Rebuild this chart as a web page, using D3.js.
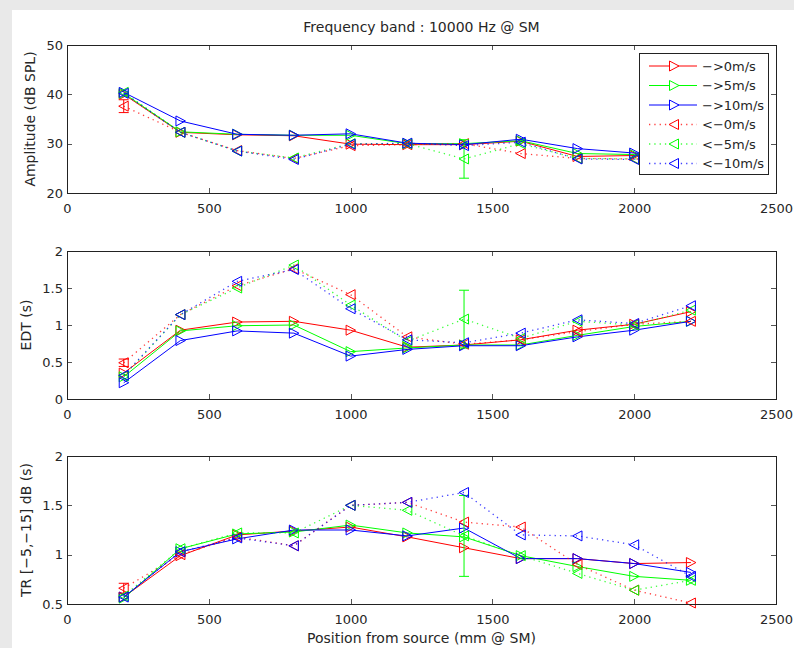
<!DOCTYPE html>
<html>
<head>
<meta charset="utf-8">
<script src="https://cdn.jsdelivr.net/npm/d3@7"></script>
<style>
body { margin: 0; background: #e9e9e9; }
svg { display: block; font-family: "DejaVu Sans", sans-serif; }
</style>
</head>
<body>
<script>
// x positions (mm from source)
var positions = [200, 400, 600, 800, 1000, 1200, 1400, 1600, 1800, 2000, 2200];
var seriesNames = ["\u2212>0m/s", "\u2212>5m/s", "\u2212>10m/s", "<\u22120m/s", "<\u22125m/s", "<\u221210m/s"];

// Amplitude (dB SPL)
var ampFwd0   = [40.0, 32.3, 31.8, 31.6, 29.9, 29.8, 29.8, 30.5, 27.4, 27.6, 27.2];
var ampFwd5   = [40.2, 32.4, 31.9, 31.7, 31.7, 30.0, 30.0, 30.6, 28.0, 27.8, 27.4];
var ampFwd10  = [40.4, 34.6, 31.9, 31.7, 32.0, 30.1, 29.8, 30.9, 29.0, 28.1, 27.8];
var ampBack0  = [37.6, 32.3, 28.6, 27.0, 29.6, 29.8, 30.0, 28.0, 27.0, 26.9, 26.8];
var ampBack5  = [40.4, 32.3, 28.5, 27.1, 30.0, 30.0, 26.9, 30.0, 27.0, 26.9, 26.8];
var ampBack10 = [40.2, 32.3, 28.5, 26.8, 29.9, 30.1, 29.6, 30.3, 26.9, 26.8, 26.7];

// EDT (s)
var edtFwd0   = [0.35, 0.93, 1.04, 1.05, 0.93, 0.70, 0.73, 0.80, 0.93, 1.01, 1.18];
var edtFwd5   = [0.30, 0.92, 0.99, 1.00, 0.64, 0.69, 0.73, 0.73, 0.86, 0.98, 1.05];
var edtFwd10  = [0.22, 0.79, 0.92, 0.89, 0.58, 0.67, 0.72, 0.72, 0.84, 0.93, 1.05];
var edtBack0  = [0.49, 1.14, 1.53, 1.76, 1.41, 0.84, 0.74, 0.80, 0.91, 1.01, 1.05];
var edtBack5  = [0.31, 1.14, 1.50, 1.81, 1.27, 0.78, 1.08, 0.82, 1.05, 1.00, 1.20];
var edtBack10 = [0.32, 1.14, 1.59, 1.75, 1.22, 0.80, 0.76, 0.89, 1.07, 1.02, 1.26];

// TR [-5,-15] dB (s)
var trFwd0   = [0.57, 0.99, 1.20, 1.24, 1.28, 1.18, 1.07, 0.96, 0.96, 0.91, 0.92];
var trFwd5   = [0.56, 1.06, 1.21, 1.23, 1.30, 1.22, 1.18, 0.99, 0.88, 0.78, 0.74];
var trFwd10  = [0.57, 1.03, 1.16, 1.25, 1.25, 1.19, 1.27, 0.96, 0.96, 0.91, 0.82];
var trBack0  = [0.66, 1.00, 1.18, 1.09, 1.50, 1.53, 1.33, 1.28, 0.90, 0.64, 0.51];
var trBack5  = [0.58, 1.06, 1.22, 1.22, 1.50, 1.45, 1.19, 0.99, 0.81, 0.64, 0.74];
var trBack10 = [0.57, 1.03, 1.17, 1.09, 1.50, 1.53, 1.63, 1.20, 1.19, 1.10, 0.78];

// visible error bars: [series index, position, half length]
var ampErr = [[3, 200, 1.3], [4, 1400, 3.9]];
var edtErr = [[3, 200, 0.05], [4, 1400, 0.39]];
var trErr  = [[3, 200, 0.05], [4, 1400, 0.41]];

// ticks
var xTicks   = [0, 500, 1000, 1500, 2000, 2500];
var ampTicks = [20, 30, 40, 50];
var edtTicks = [0, 0.5, 1, 1.5, 2];
var trTicks  = [0.5, 1, 1.5, 2];

var colors = ["#ff0000", "#00ff00", "#0000ff", "#ff0000", "#00ff00", "#0000ff"];
var axisCol = "#222";

var svg = d3.select("body").append("svg")
    .attr("width", 794)
    .attr("height", 648);

svg.append("rect")
    .attr("x", 12).attr("y", 10)
    .attr("width", 782).attr("height", 638)
    .attr("fill", "#fff");

var left = 67, right = 776, ph = 148;
var x = d3.scaleLinear().domain([0, 2500]).range([0, right - left]);

var triRight = "M-4.5,-5L5,0L-4.5,5Z",
    triLeft  = "M4.5,-5L-5,0L4.5,5Z";

function drawPanel(top, yDomain, yTicks, series, errs, label, labelX) {
    var y = d3.scaleLinear().domain(yDomain).range([ph, 0]);
    var g = svg.append("g").attr("transform", "translate(" + left + "," + top + ")");

    // axes, ticks inward on all four sides
    var bottom = g.append("g").attr("transform", "translate(0," + ph + ")")
        .call(d3.axisBottom(x).tickValues(xTicks).tickSizeInner(-5).tickSizeOuter(0).tickPadding(11).tickFormat(String));
    var topAx = g.append("g")
        .call(d3.axisTop(x).tickValues(xTicks).tickSizeInner(-5).tickSizeOuter(0).tickFormat(""));
    var leftAx = g.append("g")
        .call(d3.axisLeft(y).tickValues(yTicks).tickSizeInner(-5).tickSizeOuter(0).tickPadding(4).tickFormat(String));
    var rightAx = g.append("g").attr("transform", "translate(" + (right - left) + ",0)")
        .call(d3.axisRight(y).tickValues(yTicks).tickSizeInner(-5).tickSizeOuter(0).tickFormat(""));
    [bottom, topAx, leftAx, rightAx].forEach(function(a) {
        a.selectAll("path").attr("stroke", axisCol).attr("shape-rendering", "crispEdges");
        a.selectAll("line").attr("stroke", "#555").attr("shape-rendering", "crispEdges");
        a.selectAll("text").attr("fill", "#262626").style("font-size", "13px")
            .style("font-family", "'DejaVu Sans', sans-serif");
    });

    series.forEach(function(vals, si) {
        var dotted = si >= 3;
        var pts = positions.map(function(p, i) { return [p, vals[i]]; });

        errs.filter(function(e) { return e[0] === si; }).forEach(function(e) {
            var v = vals[positions.indexOf(e[1])];
            var eg = g.append("g").attr("stroke", colors[si]).attr("stroke-width", 1);
            eg.append("line").attr("x1", x(e[1])).attr("x2", x(e[1]))
                .attr("y1", y(v - e[2])).attr("y2", y(v + e[2]));
            [v - e[2], v + e[2]].forEach(function(yy) {
                eg.append("line").attr("x1", x(e[1]) - 5).attr("x2", x(e[1]) + 5)
                    .attr("y1", y(yy)).attr("y2", y(yy));
            });
        });

        g.append("path").datum(pts)
            .attr("fill", "none")
            .attr("stroke", colors[si])
            .attr("stroke-width", dotted ? 1.3 : 1)
            .attr("stroke-opacity", dotted ? 0.75 : 1)
            .attr("stroke-dasharray", dotted ? "1.3,4" : null)
            .attr("d", d3.line().x(function(d) { return x(d[0]); }).y(function(d) { return y(d[1]); }));

        g.selectAll(null).data(pts).enter().append("path")
            .attr("transform", function(d) { return "translate(" + x(d[0]) + "," + y(d[1]) + ")"; })
            .attr("d", dotted ? triLeft : triRight)
            .attr("fill", "none")
            .attr("stroke", colors[si])
            .attr("stroke-width", 1);
    });

    g.append("rect").attr("width", right - left).attr("height", ph)
        .attr("fill", "none").attr("stroke", axisCol).attr("shape-rendering", "crispEdges");

    svg.append("text")
        .attr("transform", "translate(" + labelX + "," + (top + ph / 2) + ") rotate(-90)")
        .attr("text-anchor", "middle")
        .attr("fill", "#262626")
        .style("font-size", "14px")
        .text(label);
    return g;
}

drawPanel(45, [20, 50], ampTicks,
    [ampFwd0, ampFwd5, ampFwd10, ampBack0, ampBack5, ampBack10], ampErr, "Amplitude (dB SPL)", 35);
drawPanel(251, [0, 2], edtTicks,
    [edtFwd0, edtFwd5, edtFwd10, edtBack0, edtBack5, edtBack10], edtErr, "EDT (s)", 31);
drawPanel(456, [0.5, 2], trTicks,
    [trFwd0, trFwd5, trFwd10, trBack0, trBack5, trBack10], trErr, "TR [\u22125,\u221215] dB (s)", 31);

// title and x label
svg.append("text")
    .attr("x", (left + right) / 2).attr("y", 32)
    .attr("text-anchor", "middle").attr("fill", "#262626")
    .style("font-size", "14px")
    .text("Frequency band : 10000 Hz @ SM");

svg.append("text")
    .attr("x", (left + right) / 2).attr("y", 643)
    .attr("text-anchor", "middle").attr("fill", "#262626")
    .style("font-size", "14px")
    .text("Position from source (mm @ SM)");

// legend
var lg = svg.append("g").attr("transform", "translate(639,53)");
lg.append("rect").attr("width", 129).attr("height", 121)
    .attr("fill", "#fff").attr("stroke", axisCol).attr("shape-rendering", "crispEdges");
seriesNames.forEach(function(name, i) {
    var yy = 13 + i * 19.5, dotted = i >= 3;
    lg.append("line").attr("x1", 10).attr("x2", 58).attr("y1", yy).attr("y2", yy)
        .attr("stroke", colors[i])
        .attr("stroke-width", dotted ? 1.3 : 1)
        .attr("stroke-opacity", dotted ? 0.75 : 1)
        .attr("stroke-dasharray", dotted ? "1.3,4" : null);
    lg.append("path").attr("transform", "translate(35," + yy + ")")
        .attr("d", dotted ? triLeft : triRight)
        .attr("fill", "#fff").attr("stroke", colors[i]);
    lg.append("text").attr("x", 63).attr("y", yy + 4.5)
        .attr("fill", "#262626").style("font-size", "13px")
        .text(name);
});
</script>
</body>
</html>
